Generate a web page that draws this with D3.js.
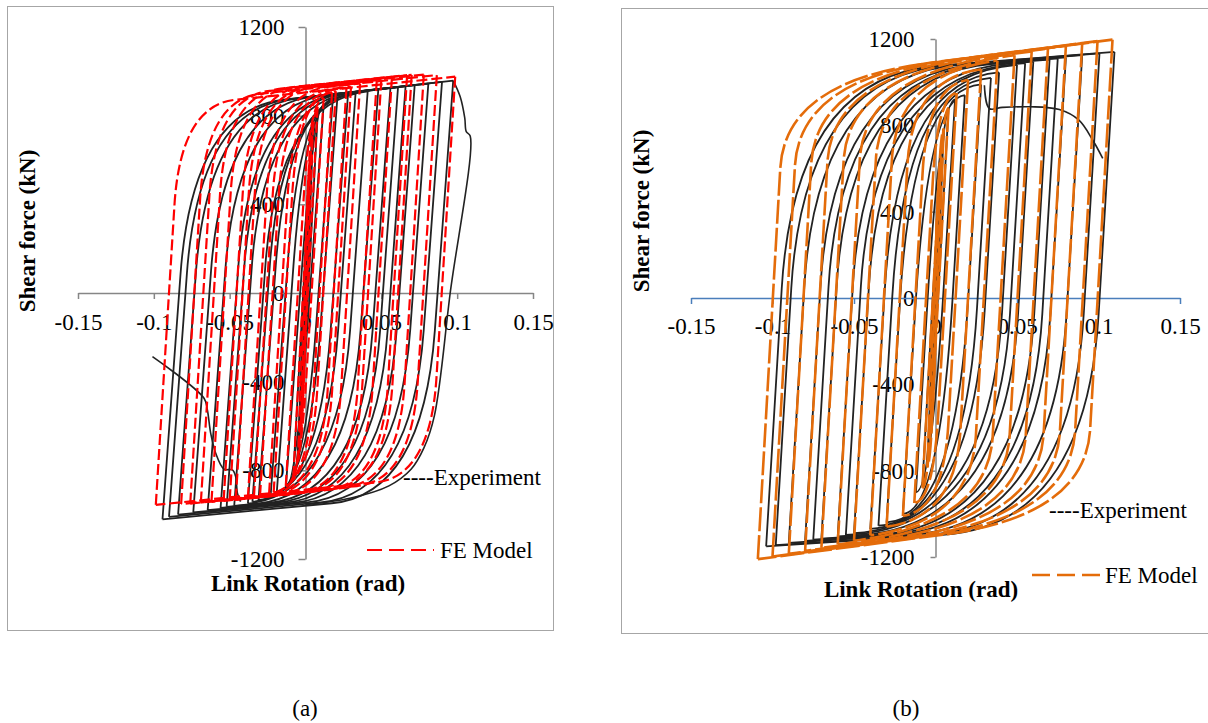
<!DOCTYPE html>
<html>
<head>
<meta charset="utf-8">
<script src="https://cdn.jsdelivr.net/npm/d3@7"></script>
<style>
  body { margin: 0; background: #fff; }
</style>
</head>
<body>
<div id="chart"></div>
<script>
// ---- data: loop peaks (rotation rad, shear kN) ----
var xTicks = [-0.15, -0.1, -0.05, 0, 0.05, 0.1, 0.15];
var yTicks = [-1200, -800, -400, 0, 400, 800, 1200];

// panel (a)
var expA_rotPos   = [0.003, 0.005, 0.008, 0.012, 0.018, 0.021, 0.028, 0.033, 0.041, 0.048, 0.056, 0.061, 0.066, 0.072, 0.081, 0.09, 0.0974];
var expA_forcePos = [560, 720, 800, 850, 875, 880, 895, 900, 910, 918, 925, 928, 933, 938, 945, 952, 958];
var expA_rotNeg   = [-0.003, -0.005, -0.008, -0.013, -0.019, -0.023, -0.031, -0.035, -0.038, -0.047, -0.052, -0.056, -0.0645, -0.074, -0.084, -0.09, -0.0943];
var expA_forceNeg = [-560, -720, -820, -880, -905, -915, -935, -942, -950, -960, -965, -970, -980, -990, -1000, -1010, -1021];

var feA_rotPos   = [0.003, 0.005, 0.008, 0.012, 0.0175, 0.02, 0.027, 0.03, 0.036, 0.047, 0.05, 0.057, 0.067, 0.07, 0.078, 0.0866, 0.0987];
var feA_forcePos = [600, 760, 840, 880, 905, 910, 925, 930, 945, 960, 963, 975, 983, 984, 985, 983, 976];
var feA_rotNeg   = [-0.003, -0.005, -0.008, -0.013, -0.021, -0.024, -0.03, -0.034, -0.038, -0.046, -0.05, -0.054, -0.062, -0.069, -0.076, -0.082, -0.0987];
var feA_forceNeg = [-600, -760, -830, -870, -900, -905, -915, -920, -925, -932, -935, -938, -942, -945, -950, -952, -956];

// failure branches of the test in (a)
var expA_tailRight = [[0.0974, 958], [0.102, 885], [0.105, 790], [0.106, 728], [0.1086, 708], [0.0954, 0],
                      [0.085, -553], [0.078, -700], [0.0696, -795], [0.055, -870], [0.03, -925], [0, -955]];
var expA_tailLeft  = [[-0.1009, -287], [-0.0669, -475], [-0.0647, -528], [-0.0625, -633], [-0.0592, -723],
                      [-0.0537, -795], [-0.0482, -798], [-0.046, -829], [-0.0449, -903], [-0.0428, -941]];

// panel (b)
var expB_rotPos   = [0.003, 0.005, 0.008, 0.012, 0.018, 0.028, 0.034, 0.039, 0.05, 0.055, 0.06, 0.07, 0.075, 0.08, 0.09, 0.1006, 0.1098];
var expB_forcePos = [600, 780, 880, 920, 940, 990, 1020, 1045, 1080, 1088, 1095, 1105, 1110, 1115, 1125, 1133, 1140];
var expB_rotNeg   = [-0.003, -0.005, -0.008, -0.012, -0.02, -0.03, -0.035, -0.04, -0.05, -0.055, -0.06, -0.07, -0.075, -0.08, -0.09, -0.098, -0.1039];
var expB_forceNeg = [-600, -780, -860, -900, -1000, -1040, -1055, -1070, -1090, -1098, -1105, -1115, -1120, -1125, -1135, -1145, -1151];

var feB_rotPos   = [0.003, 0.005, 0.008, 0.013, 0.02, 0.028, 0.038, 0.0485, 0.059, 0.069, 0.08, 0.09, 0.0994, 0.1086];
var feB_forcePos = [600, 780, 880, 950, 1010, 1060, 1100, 1125, 1142, 1156, 1168, 1180, 1190, 1197];
var feB_rotNeg   = [-0.003, -0.005, -0.008, -0.013, -0.02, -0.03, -0.04, -0.05, -0.06, -0.07, -0.08, -0.09, -0.1, -0.109];
var feB_forceNeg = [-600, -780, -880, -950, -1010, -1060, -1100, -1125, -1142, -1158, -1172, -1185, -1198, -1210];

var expB_tail = [[0.030, 986], [0.033, 878], [0.041, 883], [0.058, 886], [0.076, 873], [0.088, 824], [0.0965, 731], [0.1026, 647]];

// ---- drawing ----
var FONT = "'Liberation Serif', 'Times New Roman', Tinos, 'DejaVu Serif', serif";
var FS = 23;

var svg = d3.select("#chart").append("svg")
  .attr("width", 1208)
  .attr("height", 723)
  .style("font-family", FONT);

// one half-cycle: elastic line from the start corner, rounded knee, hardening line into the end corner
function branch(ctx, x, y, x0, y0, x1, y1, shape, s) {
  var span = x1 - x0, dir = span > 0 ? 1 : -1;
  var K = shape.K;
  var rI = (y1 - y0 - s * x1 + K * x0) / (K - s);
  var t = (rI - x0) / span;
  if (t > 0.8 || t < 0) rI = x0 + 0.8 * span;
  var fI = y1 + s * (rI - x1);
  // knee starts h kN below the corner on the elastic line
  var fa = Math.min(shape.h / Math.abs(fI - y0), 0.95);
  var ar = rI + fa * (x0 - rI), af = fI + fa * (y0 - fI);
  // and ends w rad along the hardening line
  var br = rI + dir * Math.min(shape.w, Math.abs(x1 - rI));
  var bf = y1 + s * (br - x1);
  ctx.moveTo(x(x0), y(y0));
  ctx.lineTo(x(ar), y(af));
  ctx.quadraticCurveTo(x(rI), y(fI), x(br), y(bf));
  ctx.lineTo(x(x1), y(y1));
}

function drawLoops(g, x, y, rotPos, forcePos, rotNeg, forceNeg, shape, style) {
  g.selectAll(null)
    .data(d3.range(rotPos.length))
    .enter().append("path")
    .attr("d", function(i) {
      var p = d3.path();
      branch(p, x, y, rotNeg[i], forceNeg[i], rotPos[i], forcePos[i], shape, shape.sTop);
      branch(p, x, y, rotPos[i], forcePos[i], rotNeg[i], forceNeg[i], shape, shape.sBot);
      return p.toString();
    })
    .attr("fill", "none")
    .attr("stroke", style.color)
    .attr("stroke-width", style.width)
    .attr("stroke-dasharray", style.dash)
    .attr("stroke-linejoin", "round");
}

function drawTail(g, x, y, pts) {
  var line = d3.line()
    .x(function(d) { return x(d[0]); })
    .y(function(d) { return y(d[1]); })
    .curve(d3.curveCatmullRom.alpha(0.5));
  g.append("path")
    .attr("d", line(pts))
    .attr("fill", "none")
    .attr("stroke", "#222")
    .attr("stroke-width", 1.6);
}

function addText(g, t) {
  return g.append("text").style("font-family", FONT).attr("font-size", FS).text(t);
}

function panel(opt) {
  var g = svg.append("g");
  var x = d3.scaleLinear().domain([-0.15, 0.15]).range(opt.xRange);
  var y = d3.scaleLinear().domain([-1200, 1200]).range(opt.yRange);

  g.append("rect")
    .attr("x", opt.box[0] + 0.5).attr("y", opt.box[1] + 0.5)
    .attr("width", opt.box[2]).attr("height", opt.box[3])
    .attr("fill", "#fff").attr("stroke", "#a6a6a6").attr("stroke-width", 1);

  var yAxis = g.append("g")
    .attr("transform", "translate(" + x(0) + ",0)")
    .call(d3.axisLeft(y).tickValues(yTicks).tickFormat(function(d) { return String(d); })
      .tickSize(opt.yTick).tickSizeOuter(0).tickPadding(21 - opt.yTick));
  yAxis.selectAll("path, line").attr("stroke", "#868686").attr("stroke-width", 1.5);

  var xAxis = g.append("g")
    .attr("transform", "translate(0," + y(0) + ")")
    .call(d3.axisBottom(x).tickValues(xTicks).tickFormat(function(d) { return String(d); })
      .tickSize(6).tickSizeOuter(0).tickPadding(opt.xPad));
  xAxis.selectAll("path, line").attr("stroke", opt.xColor).attr("stroke-width", 1.5);

  g.selectAll(".tick text")
    .attr("font-size", FS)
    .style("font-family", FONT)
    .attr("fill", "#000");

  // series on top of the axis labels, as in the original
  drawLoops(g, x, y, opt.exp[0], opt.exp[1], opt.exp[2], opt.exp[3], opt.expShape,
    { color: "#222", width: 1.8, dash: null });
  opt.tails.forEach(function(t) { drawTail(g, x, y, t); });
  drawLoops(g, x, y, opt.fe[0], opt.fe[1], opt.fe[2], opt.fe[3], opt.feShape,
    { color: opt.feColor, width: opt.feWidth, dash: opt.feDash });

  // titles
  addText(g, "Shear force (kN)")
    .attr("transform", "translate(" + opt.yTitle[0] + "," + opt.yTitle[1] + ") rotate(-90)")
    .attr("text-anchor", "middle").attr("dy", "0.35em")
    .attr("font-weight", "bold");
  addText(g, "Link Rotation (rad)")
    .attr("x", opt.xTitle[0]).attr("y", opt.xTitle[1])
    .attr("text-anchor", "middle").attr("dy", "0.35em")
    .attr("font-weight", "bold");

  // legend
  addText(g, "----Experiment")
    .attr("x", opt.legExp[0]).attr("y", opt.legExp[1]).attr("dy", "0.33em");
  g.append("line")
    .attr("x1", opt.legFe[0]).attr("x2", opt.legFe[1])
    .attr("y1", opt.legFe[2]).attr("y2", opt.legFe[2])
    .attr("stroke", opt.feColor).attr("stroke-width", opt.feWidth)
    .attr("stroke-dasharray", opt.legDash);
  addText(g, "FE Model")
    .attr("x", opt.legFe[3]).attr("y", opt.legFe[2]).attr("dy", "0.33em");

  addText(svg, opt.label[2])
    .attr("x", opt.label[0]).attr("y", opt.label[1]).attr("dy", "0.33em")
    .attr("text-anchor", "middle");
}

panel({
  box: [7, 6, 546, 624],
  xRange: [78, 533], yRange: [559, 27],
  yTick: 7, xPad: 15, xColor: "#868686",
  exp: [expA_rotPos, expA_forcePos, expA_rotNeg, expA_forceNeg],
  expShape: { K: 93000, sTop: 770, sBot: 650, h: 740, w: 0.06 },
  tails: [expA_tailRight, expA_tailLeft],
  fe: [feA_rotPos, feA_forcePos, feA_rotNeg, feA_forceNeg],
  feShape: { K: 110000, sTop: 720, sBot: 700, h: 450, w: 0.036 },
  feColor: "#ff0000", feWidth: 2.2, feDash: "11,4", legDash: "15,7",
  yTitle: [27, 231], xTitle: [308, 583],
  legExp: [403, 477], legFe: [367, 434, 550, 440],
  label: [305, 708, "(a)"]
});

panel({
  box: [621, 8, 600, 625],
  xRange: [691, 1180], yRange: [557, 39],
  yTick: 5, xPad: 14, xColor: "#4a7ebb",
  exp: [expB_rotPos, expB_forcePos, expB_rotNeg, expB_forceNeg],
  expShape: { K: 125000, sTop: 590, sBot: 500, h: 980, w: 0.088 },
  tails: [expB_tail],
  fe: [feB_rotPos, feB_forcePos, feB_rotNeg, feB_forceNeg],
  feShape: { K: 131500, sTop: 971, sBot: 1000, h: 400, w: 0.0865 },
  feColor: "#e46c0a", feWidth: 2.6, feDash: "24,4", legDash: "18,7",
  yTitle: [641, 211], xTitle: [921, 589],
  legExp: [1049, 510], legFe: [1032, 1100, 575, 1105],
  label: [906, 708, "(b)"]
});
</script>
</body>
</html>
